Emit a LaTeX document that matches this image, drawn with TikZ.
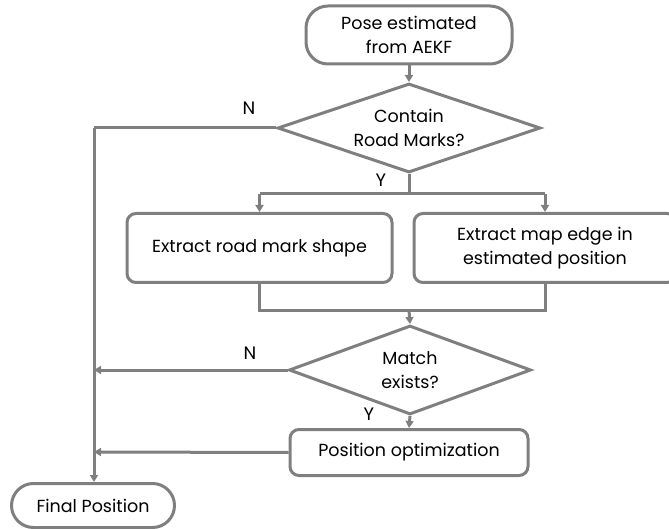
\documentclass[tikz,border=0pt]{standalone}
\usepackage{fontspec}
\setmainfont{Poppins}
\usetikzlibrary{shapes.geometric,arrows.meta}
\definecolor{linegray}{HTML}{7F7F7F}
\begin{document}
\begin{tikzpicture}[x=1pt,y=-1pt,
  every node/.style={font=\fontsize{17.5}{24}\selectfont, text=black},
  flow/.style={draw=linegray, line width=3pt},
  arr/.style={flow, -{Triangle[length=7pt,width=8pt]}},
  term/.style={draw=linegray, line width=3pt, rounded corners=22pt, align=center, inner sep=0pt},
  proc/.style={draw=linegray, line width=3pt, rounded corners=9pt, align=center, inner sep=0pt},
  decision/.style={draw=linegray, line width=3pt, diamond, shape aspect=2.9, align=center, inner sep=0pt},
  lbl/.style={font=\fontsize{18}{20}\selectfont}
]
\useasboundingbox (0,0) rectangle (669,529);
\clip (0,0) rectangle (669,529);

% terminals, process steps and decisions
\node[term, minimum width=206pt, minimum height=58pt] (start) at (409,35) {Pose estimated\\from AEKF};
\node[decision, minimum width=263pt, minimum height=89pt] (d1) at (409,128) {Contain\\Road Marks?};
\node[proc, minimum width=265pt, minimum height=69pt] (shape) at (259.5,248) {Extract road mark shape};
\node[proc, minimum width=262pt, minimum height=69pt] (edge) at (545,248) {Extract map edge in\\estimated position};
\node[decision, minimum width=242pt, minimum height=89pt] (d2) at (410,370) {Match\\exists?};
\node[proc, minimum width=238pt, minimum height=46pt] (opt) at (409,452.5) {Position optimization};
\node[term, minimum width=163pt, minimum height=44pt] (final) at (93,505.5) {Final Position};

% branch labels
\node[lbl] (n1) at (249,108) {N};
\node[lbl] (y1) at (381,180) {Y};
\node[lbl] (n2) at (250,353) {N};
\node[lbl] (y2) at (369,414) {Y};

% junction points
\coordinate (split) at (409,194);
\coordinate (splitL) at (259.5,194);
\coordinate (splitR) at (545,194);
\coordinate (mergeL) at (259.5,310);
\coordinate (mergeR) at (545,310);
\coordinate (merge) at (409,310);
\coordinate (railTop) at (94,128);
\coordinate (railN) at (94,370);
\coordinate (railOpt) at (94,452);

% connectors
\draw[arr] (start) -- (d1);
\draw[flow] (d1.south) -- (split);
\draw[flow] (splitL) -- (splitR);
\draw[arr] (splitL) -- (shape.north);
\draw[arr] (splitR) -- (edge.north);
\draw[flow] (shape.south) -- (mergeL) -- (mergeR) -- (edge.south);
\draw[arr] (merge) -- (d2.north);
\draw[arr] (d2.south) -- (opt.north);
\draw[arr] (d2.west) -- (railN);
\draw[arr] (opt.west) -- (railOpt);
\draw[flow] (d1.west) -- (railTop);
\draw[arr] (railTop) -- (final.north -| railTop);
\end{tikzpicture}
\end{document}
